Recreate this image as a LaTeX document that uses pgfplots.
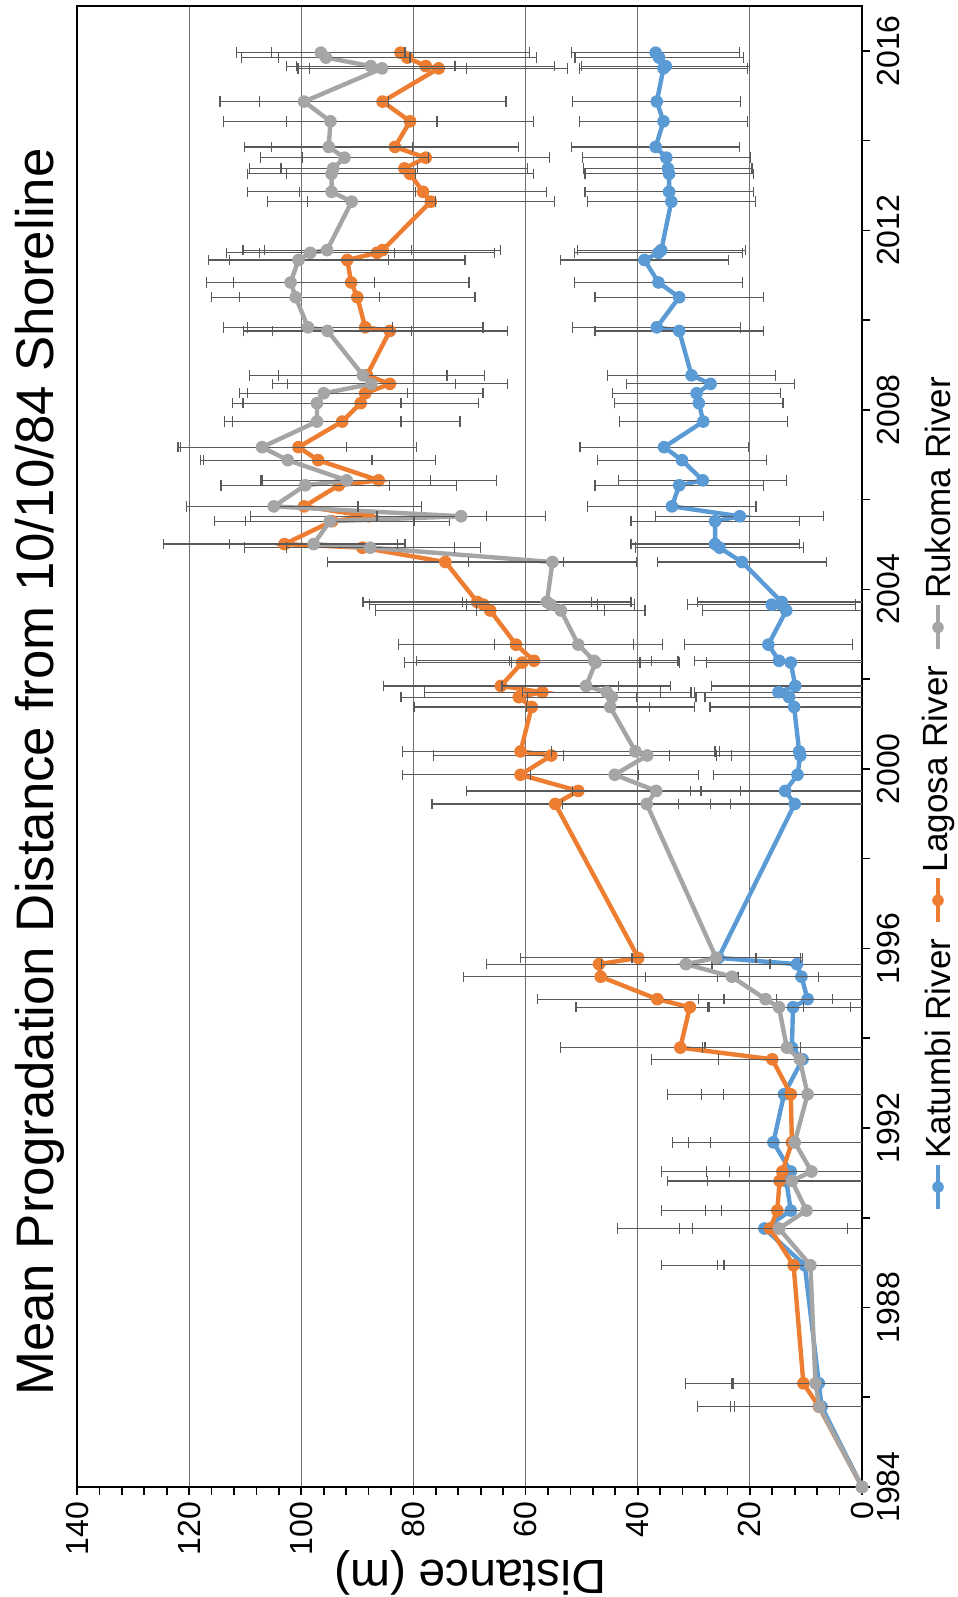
\documentclass[border=0pt]{standalone}
\usepackage{fontspec}
\setmainfont{Liberation Sans}
\usepackage{pgfplots}
\usepackage{pgfplotstable}
\pgfplotsset{compat=1.18}
\definecolor{cblue}{HTML}{5B9BD5}
\definecolor{corange}{HTML}{ED7D31}
\definecolor{cgray}{HTML}{A5A5A5}
\definecolor{cerr}{HTML}{595959}

\pgfplotstableread{
yr d e
1984.00 0 0
1985.79 7.2 15.6
1986.31 7.7 15.3
1988.94 10.2 14.4
1989.76 17.4 26.2
1990.16 12.7 15.2
1990.82 13.5 14.0
1991.03 12.7 15.0
1991.68 15.8 18.0
1992.75 13.9 14.7
1993.53 10.6 15.0
1993.79 12.5 15.5
1994.69 12.3 15.0
1994.87 9.7 14.9
1995.37 10.8 15.0
1995.65 11.6 15.0
1995.79 25.6 15.0
1999.22 12.0 15
1999.51 13.7 15
1999.87 11.5 15
2000.30 11.0 15
2000.39 11.2 15
2001.38 12.1 15
2001.60 13.0 15
2001.71 14.9 15
2001.85 11.9 15
2002.37 12.7 15
2002.41 14.8 15
2002.77 16.7 15
2003.53 13.5 15
2003.66 16.1 15
2003.72 14.3 15
2004.61 21.4 15
2004.93 25.4 15
2005.01 26.2 15
2005.52 26.2 15
2005.63 21.8 15
2005.85 33.9 15
2006.32 32.6 15
2006.43 28.4 15
2006.88 32.1 15
2007.17 35.3 15
2007.74 28.3 15
2008.15 29.1 15
2008.37 29.5 15
2008.58 27.0 15
2008.77 30.4 15
2009.76 32.6 15
2009.84 36.6 15
2010.51 32.6 15
2010.84 36.3 15
2011.34 38.8 15
2011.50 36.3 15
2011.56 35.8 15
2012.64 34.0 15
2012.86 34.4 15
2013.26 34.4 15
2013.38 34.6 15
2013.62 34.9 15
2013.86 36.8 15
2014.43 35.4 15
2014.87 36.6 15
2015.61 35.4 15
2015.66 35.0 15
2015.85 36.2 15
2015.96 36.8 15
}\katumbi

\pgfplotstableread{
yr d e
1984.00 0 0
1985.79 7.7 21.6
1986.31 10.45 21
1988.94 12.2 23.5
1989.76 16.4 13.8
1990.16 15.1 20.6
1990.82 14.7 20
1991.03 14.2 21.5
1991.68 12.5 18.5
1992.75 12.7 22
1993.53 16.0 21.5
1993.79 32.4 21.4
1994.69 30.7 20.3
1994.87 36.5 21.3
1995.37 46.6 24.5
1995.65 46.9 20
1995.79 39.9 21
1999.22 54.7 22
1999.51 50.6 20
1999.87 60.9 21
2000.30 55.4 21
2000.39 60.9 21
2001.38 58.9 21
2001.60 61.2 21
2001.71 57.0 21
2001.85 64.4 21
2002.37 60.6 21
2002.41 58.5 21
2002.77 61.7 21
2003.53 66.3 20.4
2003.66 67.5 20.4
2003.72 68.6 20.4
2004.61 74.3 21
2004.93 89.1 21
2005.01 103.0 21.5
2005.52 94.5 21
2005.63 88.0 21
2005.85 99.5 21
2006.32 93.3 21
2006.43 86.2 21
2006.88 97.0 21
2007.17 100.5 21
2007.74 92.7 21
2008.15 89.4 21
2008.37 88.6 21
2008.58 84.2 21
2008.77 88.3 21
2009.76 84.2 21
2009.84 88.6 21
2010.51 90.0 21
2010.84 91.1 21
2011.34 91.8 21
2011.50 86.5 21
2011.56 85.5 21
2012.64 76.9 22
2012.86 78.3 22
2013.26 80.6 22
2013.38 81.6 22
2013.62 77.8 22
2013.86 83.3 22
2014.43 80.6 22
2014.87 85.5 22
2015.61 75.5 23
2015.66 77.8 23
2015.85 81.1 23
2015.96 82.3 23
}\lagosa

\pgfplotstableread{
yr d e
1984.00 0 0
1985.79 7.6 15.9
1986.31 8.3 15
1988.94 9.2 16.5
1989.76 14.8 17.8
1990.16 9.9 15.2
1990.82 12.5 15
1991.03 9.0 14.7
1991.68 12.0 15
1992.75 9.7 15
1993.53 11.1 14.5
1993.79 13.4 15
1994.69 14.8 12.8
1994.87 17.2 12
1995.37 23.2 15.4
1995.65 31.4 15
1995.79 26.0 15
1999.22 38.4 15
1999.51 36.7 15
1999.87 44.1 15
2000.30 38.3 15
2000.39 40.4 15
2001.38 44.9 15
2001.60 44.6 15
2001.71 45.5 15
2001.85 49.2 15
2002.37 47.5 15
2002.41 47.8 15
2002.77 50.6 15
2003.53 53.7 15
2003.66 55.5 15
2003.72 56.2 15
2004.61 55.2 15
2004.93 87.7 15
2005.01 97.8 15
2005.52 94.9 15
2005.63 71.5 15
2005.85 104.9 15
2006.32 99.3 15
2006.43 91.9 15
2006.88 102.4 15
2007.17 107.0 15
2007.74 97.2 15
2008.15 97.2 15
2008.37 96.0 15
2008.58 87.5 15
2008.77 89.0 15
2009.76 95.3 15
2009.84 98.8 15
2010.51 101.0 15
2010.84 101.9 15
2011.34 100.5 16
2011.50 98.4 15
2011.56 95.4 15
2012.64 91.0 15
2012.86 94.6 15
2013.26 94.6 15
2013.38 94.3 15
2013.62 92.3 15
2013.86 95.1 15
2014.43 94.8 19
2014.87 99.5 15
2015.61 85.6 15
2015.66 87.6 15
2015.85 95.6 15
2015.96 96.5 15
}\rukoma

\pgfplotsset{
  errx/.style={
    error bars/x dir=both,
    error bars/x explicit,
    error bars/error mark=|,
    error bars/error bar style={line width=0.6pt, cerr},
    error bars/error mark options={line width=0.6pt, cerr, mark size=2.6pt}
  },
  series/.style={color=#1, line width=2.2pt, mark=*, mark size=2.9pt,
    mark options={fill=#1, draw=#1, line width=0.5pt}, errx}
}

\begin{document}
\begin{tikzpicture}
\useasboundingbox (-38.5pt,-55pt) rectangle (440.5pt,743.5pt);
\begin{axis}[
  at={(0pt,0pt)}, anchor=south west,
  width=392.5pt, height=740.5pt, scale only axis,
  x dir=reverse,
  xmin=0, xmax=140, ymin=1984, ymax=2017,
  xtick={0,20,...,140}, minor x tick num=4,
  ytick={1984,1988,...,2016}, minor ytick={1986,1990,...,2014},
  xtick pos=left, ytick pos=right,
  xticklabel pos=left, yticklabel pos=right,
  tick align=outside,
  major tick length=4pt, minor tick length=4pt,
  tick style={black, line width=0.8pt},
  axis line style={black, line width=1pt},
  xmajorgrids=true,
  major x grid style={black!55, line width=0.6pt},
  /pgf/number format/assume math mode=true,
  /pgf/number format/1000 sep={},
  ticklabel style={font=\fontsize{16}{18}\selectfont},
  xticklabel style={rotate=90, anchor=east},
  yticklabel style={rotate=90, anchor=north},
  clip mode=individual,
]
\addplot[series=cblue] table[x=d, y=yr, x error=e] {\katumbi};
\addplot[series=corange] table[x=d, y=yr, x error=e] {\lagosa};
\addplot[series=cgray] table[x=d, y=yr, x error=e] {\rukoma};
\end{axis}
\node[rotate=90, font=\fontsize{26.4}{30}\selectfont] at (-18.5pt,357.5pt) {Mean Progradation Distance from 10/10/84 Shoreline};
\node[rotate=180, font=\fontsize{24}{28}\selectfont] at (196.5pt,-43pt) {Distance (m)};
% legend
\begin{scope}[font=\fontsize{17.5}{20}\selectfont]
\draw[cblue, line width=2.2pt] (430.5pt,139pt) -- ++(0pt,22pt);
\fill[cblue] (430.5pt,150pt) circle (2.9pt);
\node[rotate=90, anchor=west, inner sep=0pt] (t1) at (430.5pt,164pt) {Katumbi River};
\path (t1.east) ++(0pt,8pt) coordinate (s2);
\draw[corange, line width=2.2pt] (s2) -- ++(0pt,22pt);
\fill[corange] (s2) ++(0pt,11pt) circle (2.9pt);
\path (s2) ++(0pt,25pt) node[rotate=90, anchor=west, inner sep=0pt] (t2) {Lagosa River};
\path (t2.east) ++(0pt,8pt) coordinate (s3);
\draw[cgray, line width=2.2pt] (s3) -- ++(0pt,22pt);
\fill[cgray] (s3) ++(0pt,11pt) circle (2.9pt);
\path (s3) ++(0pt,25pt) node[rotate=90, anchor=west, inner sep=0pt] (t3) {Rukoma River};
\end{scope}
\end{tikzpicture}
\end{document}
